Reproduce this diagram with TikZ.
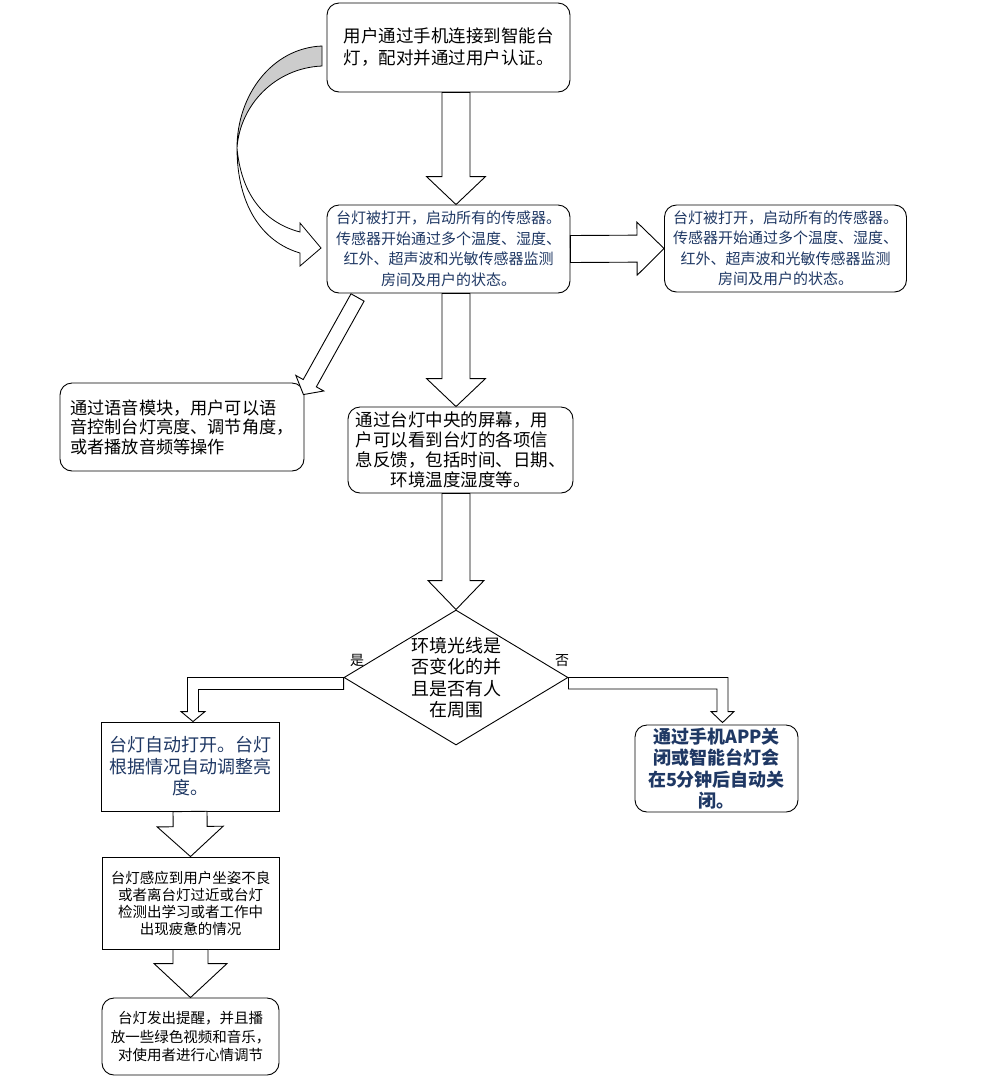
\documentclass[tikz,border=0pt]{standalone}
\usepackage{fontspec}
\setmainfont{Noto Sans CJK SC}
\usetikzlibrary{calc,shapes.geometric}
\definecolor{navy}{RGB}{31,56,100}
\definecolor{ribbon}{RGB}{204,204,204}
\newcommand\fs[2]{\fontsize{#1}{#2}\selectfont}
\tikzset{
  box/.style={draw, line width=0.9pt, rounded corners=12pt, inner sep=0pt, align=center, fill=white},
  sqbox/.style={draw, line width=0.9pt, inner sep=0pt, align=center, fill=white},
  blk/.style={draw, line width=0.9pt, fill=white, line join=miter},
}
% straight block arrow: start, tip, half shaft, half head, head length
\newcommand\barrow[5]{%
  \coordinate (hb) at ($(#2)!#5!(#1)$);
  \draw[blk] ($(#1)!#3!90:(#2)$) -- ($(hb)!#3!90:(#2)$) -- ($(hb)!#4!90:(#2)$) -- (#2)
    -- ($(hb)!#4!-90:(#2)$) -- ($(hb)!#3!-90:(#2)$) -- ($(#1)!#3!-90:(#2)$) -- cycle;}
\begin{document}
\begin{tikzpicture}[x=1pt,y=-1pt]
\useasboundingbox (0,0) rectangle (982,1080);

% nodes
\node[box, minimum width=243, minimum height=89, font=\fs{17.5}{22}] (a) at (448.5,47.5)
  {用户通过手机连接到智能台\\灯，配对并通过用户认证。};
\node[box, minimum width=243, minimum height=88, font=\fs{15}{20.5}, text=navy] (b) at (448.5,249)
  {台灯被打开，启动所有的传感器。\\传感器开始通过多个温度、湿度、\\红外、超声波和光敏传感器监测\\房间及用户的状态。};
\node[box, minimum width=242, minimum height=87, font=\fs{15}{20.5}, text=navy] (c) at (785.5,248.5)
  {台灯被打开，启动所有的传感器。\\传感器开始通过多个温度、湿度、\\红外、超声波和光敏传感器监测\\房间及用户的状态。};
\node[box, minimum width=244, minimum height=88, font=\fs{17.2}{19.5}, align=left] (d) at (182,427)
  {通过语音模块，用户可以语\\音控制台灯亮度、调节角度，\\或者播放音频等操作};
\node[box, minimum width=225, minimum height=86, font=\fs{17.5}{20}] (e) at (460.5,450)
  {\makebox[12em][l]{通过台灯中央的屏幕，用}\\\makebox[12em][l]{户可以看到台灯的各项信}\\息反馈，包括时间、日期、\\环境温度湿度等。};
\node[draw, line width=0.9pt, diamond, inner sep=0pt, minimum width=224, minimum height=135,
  label={[font=\fs{18}{21.5}, align=center]center:环境光线是\\否变化的并\\且是否有人\\在周围}] (dia) at (456,677.5) {};
\node[sqbox, minimum width=178, minimum height=89, font=\fs{18}{21.5}, text=navy] (f) at (190,766.5)
  {台灯自动打开。台灯\\根据情况自动调整亮\\度。};
\node[box, minimum width=163, minimum height=87, font=\bfseries\fs{18}{21.3}, text=navy] (g) at (716.5,768.5)
  {通过手机APP关\\闭或智能台灯会\\在5分钟后自动关\\闭。};
\node[sqbox, minimum width=177, minimum height=92, font=\fs{14.5}{17}] (h) at (190.5,903)
  {台灯感应到用户坐姿不良\\或者离台灯过近或台灯\\检测出学习或者工作中\\出现疲惫的情况};
\node[box, minimum width=177, minimum height=77, font=\fs{14.5}{18.5}] (i) at (190.5,1036.5)
  {台灯发出提醒，并且播\\放一些绿色视频和音乐，\\对使用者进行心情调节};

\node[font=\fs{14}{14}] (yes) at (357,660) {是};
\node[font=\fs{14}{14}] (no) at (562,661) {否};

% straight block arrows
\coordinate (a1) at (a.south -| dia.north);
\coordinate (b1) at (b.north -| dia.north);
\barrow{a1}{b1}{14pt}{29.5pt}{28pt}
\coordinate (b2) at (b.south -| dia.north);
\coordinate (e1) at (e.north -| dia.north);
\barrow{b2}{e1}{14pt}{29.5pt}{28pt}
\coordinate (e2) at (e.south -| dia.north);
\barrow{e2}{dia.north}{14pt}{28pt}{29pt}
\barrow{b.east}{c.west}{13.5pt}{26.5pt}{27pt}
\coordinate (b3) at ($(b.south west)+(31,4)$);
\coordinate (d1) at ($(d.north east)+(-1,12)$);
\barrow{b3}{d1}{7.5pt}{16pt}{13pt}
\barrow{f.south}{h.north}{17pt}{33pt}{30pt}
\barrow{h.south}{i.north}{17.5pt}{36.5pt}{34pt}

% elbow arrows
\draw[blk] let \p1=(dia.west), \p2=($(f.north)+(3,0)$) in
  (\x1,\y1) -- (\x2-5.5pt,\y1) -- (\x2-5.5pt,\y2+10pt) -- (\x2-12pt,\y2+10pt) -- (\x2,\y2)
  -- (\x2+12pt,\y2+10pt) -- (\x2+5.5pt,\y2+10pt) -- (\x2+5.5pt,\y1-12pt) -- (\x1,\y1-12pt) -- cycle;
\draw[blk] let \p1=(dia.east), \p2=($(g.north)+(6,-2)$) in
  (\x1,\y1) -- (\x2+5.5pt,\y1) -- (\x2+5.5pt,\y2+11pt) -- (\x2+11.5pt,\y2+11pt) -- (\x2,\y2)
  -- (\x2-11.5pt,\y2+11pt) -- (\x2-5.5pt,\y2+11pt) -- (\x2-5.5pt,\y1-11.5pt) -- (\x1,\y1-11.5pt) -- cycle;

% curved ribbon arrow from a back to b
\draw[line width=0.8pt, fill=ribbon] (322,46) .. controls (272,48) and (237,95) .. (237,148)
  .. controls (240,105) and (275,68) .. (322,66) -- cycle;
\draw[line width=0.8pt, fill=white] (237,148) .. controls (237,205) and (262,242) .. (300,253)
  -- (300,266) -- (321,248) -- (300,223) -- (300,232)
  .. controls (262,222) and (241,192) .. (237,148) -- cycle;
\end{tikzpicture}
\end{document}
